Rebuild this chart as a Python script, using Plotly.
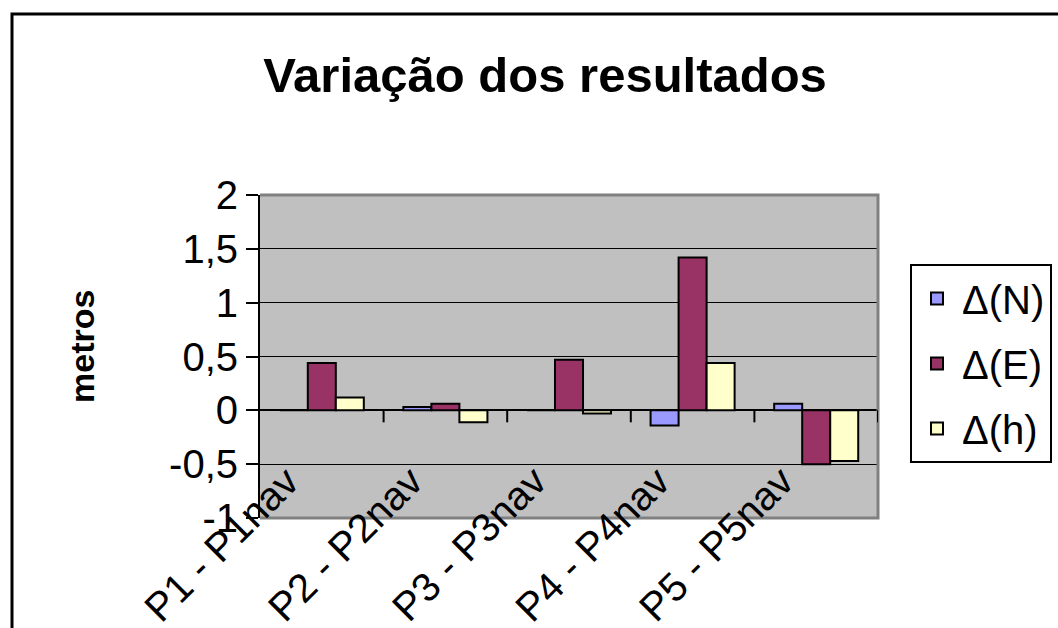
import plotly.graph_objects as go

categories = ["P1 - P1nav", "P2 - P2nav", "P3 - P3nav", "P4 - P4nav", "P5 - P5nav"]
delta_N = [0.0, 0.03, 0.0, -0.14, 0.06]
delta_E = [0.44, 0.06, 0.47, 1.42, -0.50]
delta_h = [0.12, -0.11, -0.03, 0.44, -0.47]
series_names = ["Δ(N)", "Δ(E)", "Δ(h)"]
series_colors = ["#9999FF", "#993366", "#FFFFCC"]
y_tickvals = [-1, -0.5, 0, 0.5, 1, 1.5, 2]
y_ticktext = ["-1", "-0,5", "0", "0,5", "1", "1,5", "2"]

FONT = "Liberation Sans, Arial, sans-serif"
W, H = 1058, 628
L, R, T, B = 260, 180, 195, 110
PW = W - L - R
PH = H - T - B

fig = go.Figure()
for name, vals, col in zip(series_names, [delta_N, delta_E, delta_h], series_colors):
    fig.add_trace(go.Bar(
        x=list(range(len(categories))), y=vals, name=name, legendgroup=name,
        marker=dict(color=col, line=dict(color="black", width=2)),
    ))

shapes = []
# plot area border (top, right, bottom) in gray
shapes.append(dict(type="path", xref="paper", yref="paper",
                   path="M 0 1 L 1 1 L 1 0 L 0 0", line=dict(color="#808080", width=3),
                   layer="above"))
# tick marks between categories on the axis at y=0
for i in range(len(categories)):
    shapes.append(dict(type="line", xref="x", yref="y", x0=i + 0.5, x1=i + 0.5,
                       ysizemode="pixel", yanchor=0, y0=0, y1=-12,
                       line=dict(color="black", width=2), layer="above"))
# outer chart border
shapes.append(dict(type="rect", xref="paper", yref="paper",
                   x0=(12 - L) / PW, x1=2.0, y0=-2.0, y1=(H - B - 14) / PH,
                   line=dict(color="black", width=3), fillcolor="rgba(0,0,0,0)", layer="above"))

annotations = []
for i, c in enumerate(categories):
    annotations.append(dict(x=i, y=0, xref="x", yref="y", text=c, showarrow=False,
                            textangle=-45, xanchor="right", yanchor="top",
                            xshift=-12, yshift=-45,
                            font=dict(family=FONT, size=40, color="black")))
annotations.append(dict(x=(82 - L) / PW, y=(H - B - 347) / PH, xref="paper", yref="paper",
                        text="<b>metros</b>", showarrow=False, textangle=-90,
                        xanchor="center", yanchor="middle",
                        font=dict(family=FONT, size=34, color="black")))

fig.update_layout(
    width=W, height=H,
    margin=dict(l=L, r=R, t=T, b=B, autoexpand=False),
    paper_bgcolor="white", plot_bgcolor="#C0C0C0",
    title=dict(text="<b>Variação dos resultados</b>", x=545 / W, xanchor="center",
               y=1 - 75 / H, yanchor="middle",
               font=dict(family=FONT, size=49, color="black")),
    barmode="group", bargap=0.32, bargroupgap=0,
    showlegend=True,
    legend=dict(x=(910 - L) / PW, y=(H - B - 264) / PH, xanchor="left", yanchor="top",
                bgcolor="white", bordercolor="black", borderwidth=2,
                font=dict(family=FONT, size=40, color="black"),
                tracegroupgap=10, itemwidth=40),
    xaxis=dict(range=[-0.5, len(categories) - 0.5], showticklabels=False,
               showgrid=False, zeroline=False, showline=False, ticks=""),
    yaxis=dict(range=[-1, 2], tickvals=y_tickvals, ticktext=y_ticktext,
               ticks="outside", ticklen=12, tickwidth=2, tickcolor="black",
               showline=True, linecolor="black", linewidth=2,
               showgrid=True, gridcolor="black", gridwidth=1,
               zeroline=True, zerolinecolor="black", zerolinewidth=2,
               tickfont=dict(family=FONT, size=40, color="black")),
    shapes=shapes, annotations=annotations,
)

fig.write_html("out.html", config={"displayModeBar": False},
               post_script="document.body.style.margin='0';")
